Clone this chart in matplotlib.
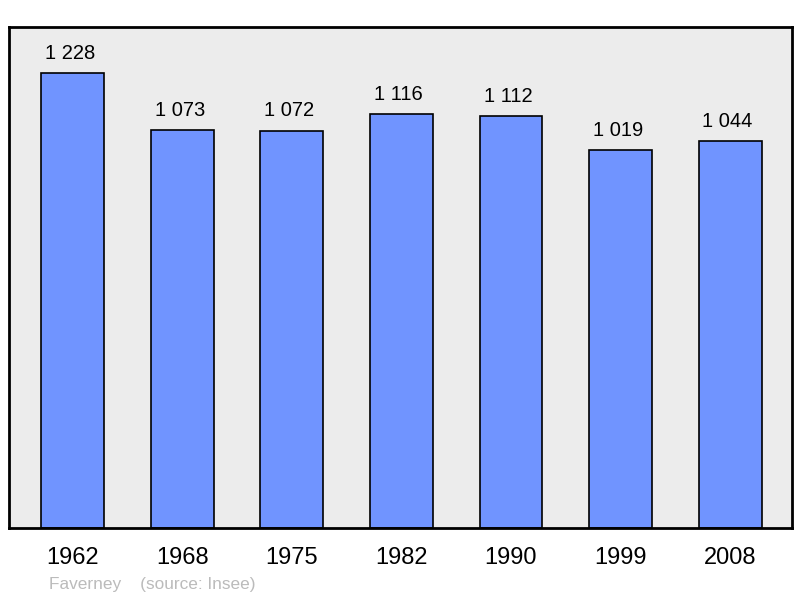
import matplotlib
matplotlib.use("Agg")
import matplotlib.pyplot as plt

years = ["1962", "1968", "1975", "1982", "1990", "1999", "2008"]
population = [1228, 1073, 1072, 1116, 1112, 1019, 1044]
labels = ["1 228", "1 073", "1 072", "1 116", "1 112", "1 019", "1 044"]

plt.rcParams['font.family'] = ['Liberation Sans', 'DejaVu Sans']

fig = plt.figure(figsize=(8.0, 5.98), dpi=100)
W, H = 800, 598
ax = fig.add_axes([9 / W, 1 - 528 / H, (792 - 9) / W, (528 - 27) / H])
ax.set_facecolor('#ececec')

x = list(range(len(years)))
ax.bar(x, population, width=0.575, color='#7094ff', edgecolor='black', linewidth=1.2, zorder=2)
for xi, v, lab in zip(x, population, labels):
    ax.annotate(lab, (xi, v), xytext=(-2, 7.5), textcoords='offset points',
                ha='center', va='bottom', fontsize=14.5, color='black')

ax.set_xlim(-0.584, 6.566)
ax.set_ylim(0, 1352)
ax.set_yticks([])
ax.set_xticks(x)
ax.set_xticklabels(years, fontsize=17)
ax.tick_params(axis='x', length=0, pad=13.5)
for s in ax.spines.values():
    s.set_linewidth(2)
    s.set_color('black')

fig.text(49 / W, 1 - 584 / H, "Faverney    (source: Insee)", fontsize=12.4,
         color='#bbbbbb', va='center', ha='left')

fig.savefig('out.png', dpi=100)
